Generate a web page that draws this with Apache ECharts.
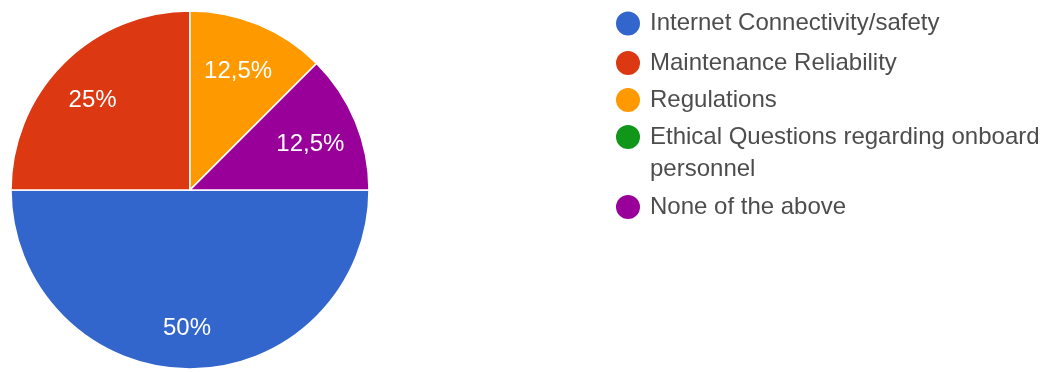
<!DOCTYPE html>
<html>
<head>
<meta charset="utf-8">
<script src="https://cdn.jsdelivr.net/npm/echarts@6/dist/echarts.min.js"></script>
<style>
  html, body { margin: 0; padding: 0; background: #ffffff; }
  #chart { width: 1062px; height: 372px; }
</style>
</head>
<body>
<div id="chart"></div>
<script>
// Survey answers and their share of responses (percent)
const categories = [
  'Internet Connectivity/safety',
  'Maintenance Reliability',
  'Regulations',
  'Ethical Questions regarding onboard personnel',
  'None of the above'
];
const shares = [50, 25, 12.5, 0, 12.5];
const palette = ['#3366cc', '#dc3912', '#ff9900', '#109618', '#990099'];

const FONT = 'Arial, "Liberation Sans", sans-serif';
const CENTER = [190, 190];
const RADIUS = 179;

const pieData = categories.map((name, i) => ({ name: name, value: shares[i] }));

// One legend block per answer so each marker lines up with the first line of its text
const legendTops = [9.5, 49, 86, 89, 193];
const legends = categories.map((name, i) => {
  const wraps = i === 3;
  return {
    data: [name],
    orient: 'vertical',
    left: 614,
    top: legendTops[i],
    padding: 0,
    icon: 'circle',
    itemWidth: 26,
    itemHeight: 26,
    selectedMode: false,
    formatter: wraps ? (n) => '\n' + n : undefined,
    textStyle: {
      fontFamily: FONT,
      fontSize: 24,
      color: '#4d4d4d',
      lineHeight: wraps ? 32 : 26,
      padding: [0, 0, 0, 4],
      width: 410,
      overflow: 'break'
    }
  };
});

const chart = echarts.init(document.getElementById('chart'), null, { renderer: 'canvas' });
chart.setOption({
  backgroundColor: '#ffffff',
  animation: false,
  color: palette,
  legend: legends,
  series: [
    {
      // the slices
      type: 'pie',
      center: CENTER,
      radius: [0, RADIUS],
      startAngle: 0,
      clockwise: true,
      avoidLabelOverlap: false,
      label: { show: false },
      labelLine: { show: false },
      itemStyle: { borderColor: '#ffffff', borderWidth: 1.5 },
      emphasis: { disabled: true },
      data: pieData
    },
    {
      // invisible ring that carries the percentage labels at ~0.72 of the radius
      type: 'pie',
      center: CENTER,
      radius: [82, RADIUS],
      startAngle: 0,
      clockwise: true,
      silent: true,
      avoidLabelOverlap: false,
      itemStyle: { color: 'rgba(0,0,0,0)' },
      labelLine: { show: false },
      emphasis: { disabled: true },
      label: {
        show: true,
        position: 'inside',
        fontFamily: FONT,
        fontSize: 24,
        color: '#ffffff',
        offset: [-3, 5],
        formatter: (p) => p.value ? String(p.value).replace('.', ',') + '%' : ''
      },
      data: pieData
    }
  ]
});
</script>
</body>
</html>
